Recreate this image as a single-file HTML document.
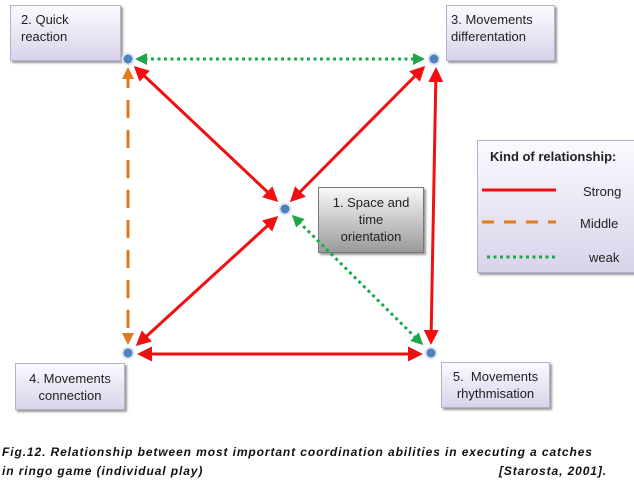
<!DOCTYPE html>
<html><head><style>
body{margin:0;width:634px;height:487px;background:#fff;overflow:hidden;position:relative;font-family:"Liberation Sans",sans-serif}
.b{position:absolute;background:linear-gradient(#fbfaff,#d9d3ea);border:1px solid #b8b0cc;box-shadow:2px 2px 2px #999;font-size:13px;color:#222;line-height:17px;box-sizing:border-box}
.cap{position:absolute;left:2px;font-size:12px;letter-spacing:0.9px;font-weight:bold;font-style:italic;color:#111}
</style></head><body>
<div class="b" style="left:10px;top:5px;width:111px;height:56px;padding:5px 0 0 10px">2. Quick<br>reaction</div>
<div class="b" style="left:446px;top:5px;width:109px;height:56px;padding:5px 0 0 4px">3. Movements<br>differentation</div>
<div class="b" style="left:318px;top:187px;width:106px;height:66px;padding:6px 0 0 0;text-align:center;background:linear-gradient(#f8f8f8,#9a9a9a);border-color:#777">1. Space and<br>time<br>orientation</div>
<div class="b" style="left:15px;top:363px;width:110px;height:47px;padding:6px 0 0 0;text-align:center">4. Movements<br>connection</div>
<div class="b" style="left:441px;top:362px;width:109px;height:46px;padding:5px 0 0 0;text-align:center">5.&nbsp; Movements<br>rhythmisation</div>
<div class="b" style="left:477px;top:140px;width:160px;height:133px;font-size:13px">
<div style="position:absolute;left:12px;top:7px;font-weight:bold">Kind of relationship:</div>
<div style="position:absolute;left:105px;top:42px">Strong</div>
<div style="position:absolute;left:102px;top:74px">Middle</div>
<div style="position:absolute;left:111px;top:108px">weak</div>
</div>
<svg width="634" height="487" style="position:absolute;left:0;top:0">
<defs>
<marker id="r" markerWidth="5" markerHeight="5" refX="4" refY="2.5" orient="auto-start-reverse" markerUnits="strokeWidth"><path d="M0,0L5,2.5L0,5z" fill="#f01010"/></marker>
<marker id="g" markerWidth="4" markerHeight="4" refX="3" refY="2" orient="auto-start-reverse" markerUnits="strokeWidth"><path d="M0,0L4,2L0,4z" fill="#1ca84a"/></marker>
<marker id="o" markerWidth="4" markerHeight="4" refX="3" refY="2" orient="auto-start-reverse" markerUnits="strokeWidth"><path d="M0,0L4,2L0,4z" fill="#e27a1c"/></marker>
</defs>
<g stroke-width="3" fill="none">
<line x1="138" y1="59" x2="422" y2="59" stroke="#1ca84a" stroke-dasharray="3,3.5" marker-start="url(#g)" marker-end="url(#g)"/>
<line x1="128" y1="70" x2="128" y2="342" stroke="#e27a1c" stroke-dasharray="18,12" marker-start="url(#o)" marker-end="url(#o)"/>
<line x1="136" y1="68" x2="276" y2="200" stroke="#f01010" marker-start="url(#r)" marker-end="url(#r)"/>
<line x1="423" y1="68" x2="292" y2="200" stroke="#f01010" marker-start="url(#r)" marker-end="url(#r)"/>
<line x1="276" y1="218" x2="138" y2="344" stroke="#f01010" marker-start="url(#r)" marker-end="url(#r)"/>
<line x1="436" y1="70" x2="431" y2="342" stroke="#f01010" marker-start="url(#r)" marker-end="url(#r)"/>
<line x1="140" y1="354" x2="420" y2="354" stroke="#f01010" marker-start="url(#r)" marker-end="url(#r)"/>
<line x1="294" y1="217" x2="421" y2="343" stroke="#1ca84a" stroke-dasharray="3,3.5" marker-start="url(#g)" marker-end="url(#g)"/>
<line x1="482" y1="190" x2="556" y2="190" stroke="#f01010"/>
<line x1="482" y1="222" x2="556" y2="222" stroke="#e27a1c" stroke-dasharray="12,10"/>
<line x1="487" y1="257" x2="556" y2="257" stroke="#1ca84a" stroke-dasharray="3,3.5"/>
</g>
<g fill="#4f81bd" stroke="#dde6f2" stroke-width="2">
<circle cx="128" cy="59" r="5.5"/><circle cx="434" cy="59" r="5.5"/><circle cx="285" cy="209" r="5.5"/><circle cx="128" cy="353" r="5.5"/><circle cx="431" cy="353" r="5.5"/>
</g>
</svg>
<div class="cap" style="top:445px;width:605px">Fig.12. Relationship between most important coordination abilities in executing a catches</div>
<div class="cap" style="top:464px;width:605px">in ringo game (individual play)<span style="position:absolute;right:0">[Starosta, 2001].</span></div>
</body></html>
